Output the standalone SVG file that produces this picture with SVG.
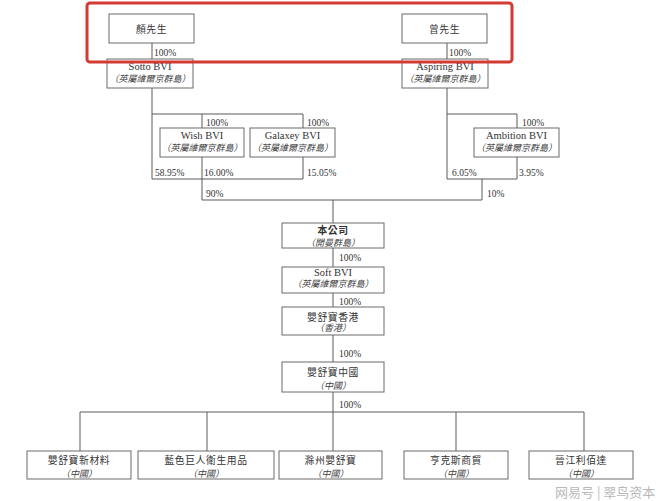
<svg xmlns="http://www.w3.org/2000/svg" width="660" height="501" viewBox="0 0 660 501">
<style>
.bg{fill:#ffffff}
.box rect{fill:#ffffff;stroke:#6a6a6a;stroke-width:1}
.conn path{fill:none;stroke:#5a5a5a;stroke-width:1}
.t{font-family:"Liberation Serif","Noto Sans CJK TC",serif;font-size:10.5px;fill:#333;text-anchor:middle}
.c{font-family:"Liberation Serif","Noto Sans CJK TC",serif;font-size:9.8px;fill:#333;text-anchor:middle;letter-spacing:0.6px}
.i{font-family:"Liberation Serif","Noto Sans CJK TC",serif;font-size:9px;fill:#444;text-anchor:middle;font-style:italic}
.p{font-family:"Liberation Serif",serif;font-size:9.5px;fill:#333}
.wm{font-family:"Noto Sans CJK SC",sans-serif;font-size:13px;fill:#b8b8b8}
</style>
<rect class="bg" x="0" y="0" width="660" height="501"/>
<g class="conn" id="connectors">
<path d="M152,43 V59"/>
<path d="M447,43 V59"/>
<path d="M152,88 V179"/>
<path d="M152,114 H303"/>
<path d="M202,114 V128"/>
<path d="M303,114 V128"/>
<path d="M303,157 V179"/>
<path d="M152,179 H303"/>
<path d="M202,157 V200"/>
<path d="M202,200 H482"/>
<path d="M447,88 V179"/>
<path d="M447,114 H517"/>
<path d="M517,114 V128"/>
<path d="M517,157 V179"/>
<path d="M447,179 H517"/>
<path d="M482,179 V200"/>
<path d="M333,200 V223"/>
<path d="M333,248 V267"/>
<path d="M333,293 V307"/>
<path d="M333,335 V362"/>
<path d="M333,392 V412"/>
<path d="M80,412 H584"/>
<path d="M80,412 V451"/>
<path d="M207,412 V451"/>
<path d="M333,412 V451"/>
<path d="M456,412 V451"/>
<path d="M584,412 V451"/>
</g>
<g id="labels">
<text class="p" x="154" y="55.5">100%</text>
<text class="p" x="449" y="55.5">100%</text>
<text class="p" x="206" y="125.5">100%</text>
<text class="p" x="307" y="125.5">100%</text>
<text class="p" x="155" y="175.5">58.95%</text>
<text class="p" x="204" y="175.5">16.00%</text>
<text class="p" x="307" y="175.5">15.05%</text>
<text class="p" x="206" y="196.5">90%</text>
<text class="p" x="522" y="125.5">100%</text>
<text class="p" x="452" y="175.5">6.05%</text>
<text class="p" x="519" y="175.5">3.95%</text>
<text class="p" x="487" y="196.5">10%</text>
<text class="p" x="339" y="261">100%</text>
<text class="p" x="339" y="304.5">100%</text>
<text class="p" x="339" y="356.5">100%</text>
<text class="p" x="339" y="407.5">100%</text>
</g>
<g class="box" id="n-yan"><rect x="109" y="14" width="85" height="29"/><text class="c" x="151.5" y="32.5">顏先生</text></g>
<g class="box" id="n-zeng"><rect x="402" y="14" width="85" height="29"/><text class="c" x="444.5" y="32.5">曾先生</text></g>
<g class="box" id="n-sotto"><rect x="107" y="59" width="86" height="29"/><text class="t" x="150" y="70">Sotto BVI</text><text class="i" x="150" y="82">（英屬維爾京群島）</text></g>
<g class="box" id="n-aspiring"><rect x="402" y="59" width="86" height="29"/><text class="t" x="445" y="70">Aspiring BVI</text><text class="i" x="445" y="82">（英屬維爾京群島）</text></g>
<g class="box" id="n-wish"><rect x="160" y="128" width="84" height="29"/><text class="t" x="202" y="139">Wish BVI</text><text class="i" x="202" y="151">（英屬維爾京群島）</text></g>
<g class="box" id="n-galaxey"><rect x="250" y="128" width="85" height="29"/><text class="t" x="292.5" y="139">Galaxey BVI</text><text class="i" x="292.5" y="151">（英屬維爾京群島）</text></g>
<g class="box" id="n-ambition"><rect x="474" y="128" width="85" height="29"/><text class="t" x="516.5" y="139">Ambition BVI</text><text class="i" x="516.5" y="151">（英屬維爾京群島）</text></g>
<g class="box" id="n-company"><rect x="282" y="223" width="102" height="25"/><text class="c" x="333" y="234" font-weight="bold">本公司</text><text class="i" x="333" y="245.5">（開曼群島）</text></g>
<g class="box" id="n-softbvi"><rect x="282" y="267" width="102" height="26"/><text class="t" x="333" y="276">Soft BVI</text><text class="i" x="333" y="287">（英屬維爾京群島）</text></g>
<g class="box" id="n-hk"><rect x="282" y="307" width="102" height="28"/><text class="c" x="333" y="320.5">嬰舒寶香港</text><text class="i" x="333" y="331">（香港）</text></g>
<g class="box" id="n-cn"><rect x="282" y="362" width="102" height="30"/><text class="c" x="333" y="375.5">嬰舒寶中國</text><text class="i" x="333" y="388.5">（中國）</text></g>
<g class="box" id="n-b1"><rect x="27" y="451" width="104" height="28"/><text class="c" x="79" y="464">嬰舒寶新材料</text><text class="i" x="79" y="477">（中國）</text></g>
<g class="box" id="n-b2"><rect x="138" y="451" width="136" height="28"/><text class="c" x="206" y="464">藍色巨人衛生用品</text><text class="i" x="206" y="477">（中國）</text></g>
<g class="box" id="n-b3"><rect x="279" y="451" width="103" height="28"/><text class="c" x="330.5" y="464">滁州嬰舒寶</text><text class="i" x="330.5" y="477">（中國）</text></g>
<g class="box" id="n-b4"><rect x="404" y="451" width="104" height="28"/><text class="c" x="456" y="464">亨克斯商貿</text><text class="i" x="456" y="477">（中國）</text></g>
<g class="box" id="n-b5"><rect x="529" y="451" width="104" height="28"/><text class="c" x="581" y="464">晉江利佰達</text><text class="i" x="581" y="477">（中國）</text></g>
<rect id="highlight" x="87" y="3" width="425" height="59" rx="3" fill="none" stroke="#d23a33" stroke-width="3"/>
<text class="wm" x="555" y="497">网易号 | 翠鸟资本</text>
</svg>
